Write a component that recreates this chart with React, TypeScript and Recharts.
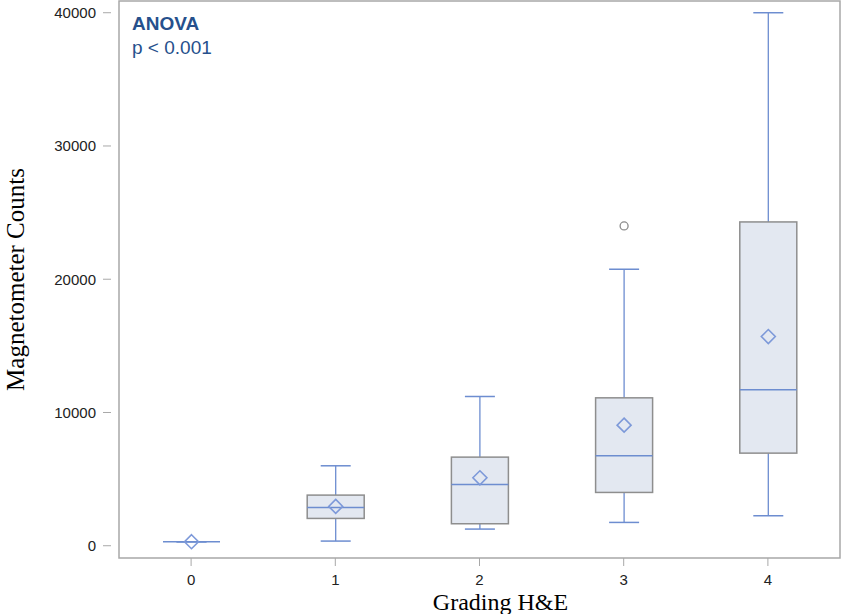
import { Bar, ComposedChart, ReferenceArea, XAxis, YAxis } from "recharts"

// five-number summaries
const grades = ["0", "1", "2", "3", "4"]
const whiskerLow = [300, 350, 1250, 1750, 2250]
const q1 = [300, 2050, 1650, 4000, 6950]
const median = [300, 2870, 4600, 6750, 11700]
const q3 = [300, 3800, 6650, 11100, 24300]
const whiskerHigh = [300, 6000, 11200, 20750, 40000]
const means = [300, 2950, 5100, 9050, 15700]
const outliers: number[][] = [[], [], [], [24000], []]

const yTicks = [0, 10000, 20000, 30000, 40000]
const yDomain: [number, number] = [-920, 40880]

const rows = grades.map((grade, i) => ({
  grade,
  lo: whiskerLow[i],
  q1: q1[i],
  med: median[i],
  q3: q3[i],
  hi: whiskerHigh[i],
  mean: means[i],
  out: outliers[i],
}))

const BLUE = "#6d8dd0"
const BOX_STROKE = "#8e8e8e"
const BOX_FILL = "#e3e8f1"
const FRAME = "#a8a8a8"

function BoxShape(props: any) {
  const { x, y, width, height, payload } = props
  if (payload == null || height == null) return null
  // bar runs from 0 to the upper whisker, so map other stats along it
  const py = (v: number) => y + height - (height * v) / payload.hi
  const cx = x + width / 2
  const cap = 15
  const d = 7
  const my = py(payload.mean)
  return (
    <g>
      <line x1={cx} x2={cx} y1={py(payload.lo)} y2={py(payload.q1)} stroke={BLUE} strokeWidth={1.3} />
      <line x1={cx} x2={cx} y1={py(payload.q3)} y2={py(payload.hi)} stroke={BLUE} strokeWidth={1.3} />
      <line x1={cx - cap} x2={cx + cap} y1={py(payload.lo)} y2={py(payload.lo)} stroke={BLUE} strokeWidth={1.5} />
      <line x1={cx - cap} x2={cx + cap} y1={py(payload.hi)} y2={py(payload.hi)} stroke={BLUE} strokeWidth={1.5} />
      <rect
        x={x}
        y={py(payload.q3)}
        width={width}
        height={Math.max(0, py(payload.q1) - py(payload.q3))}
        fill={BOX_FILL}
        stroke={BOX_STROKE}
        strokeWidth={1.5}
      />
      <line x1={x} x2={x + width} y1={py(payload.med)} y2={py(payload.med)} stroke={BLUE} strokeWidth={1.5} />
      <path
        d={`M${cx},${my - d} L${cx + d},${my} L${cx},${my + d} L${cx - d},${my} Z`}
        fill="none"
        stroke="#7d99d9"
        strokeWidth={1.6}
      />
      {payload.out.map((v: number, k: number) => (
        <circle key={k} cx={cx} cy={py(v)} r={4} fill="none" stroke="#8a8a8a" strokeWidth={1.3} />
      ))}
    </g>
  )
}

export default function App() {
  const tickStyle = { fontFamily: "'Liberation Sans', Arial, sans-serif", fontSize: 15, fill: "#222" }
  const serif = "'Liberation Serif', 'Times New Roman', serif"

  return (
    <div style={{ position: "absolute", left: 0, top: 0, width: 849, height: 614, background: "#fff" }}>
      <ComposedChart width={849} height={614} data={rows} margin={{ top: 1, right: 1, left: 0, bottom: 0 }}>
        <ReferenceArea y1={yDomain[0]} y2={yDomain[1]} fill="none" stroke={FRAME} strokeWidth={1.5} ifOverflow="visible" />
        <XAxis
          dataKey="grade"
          type="category"
          height={56}
          padding={{ left: 8, right: 8 }}
          axisLine={false}
          tickSize={8}
          tickMargin={8}
          tickLine={{ stroke: FRAME }}
          tick={tickStyle}
          label={{
            value: "Grading H&E",
            position: "insideBottom",
            offset: 4,
            dx: 21,
            style: { fontFamily: serif, fontSize: 24, fill: "#000" },
          }}
        />
        <YAxis
          type="number"
          domain={yDomain}
          ticks={yTicks}
          width={111}
          axisLine={false}
          tickSize={8}
          tickMargin={7}
          tickLine={{ stroke: FRAME }}
          tick={tickStyle}
          label={{
            value: "Magnetometer Counts",
            angle: -90,
            position: "insideLeft",
            offset: 15,
            style: { fontFamily: serif, fontSize: 25, fill: "#000", textAnchor: "middle" },
          }}
        />
        <Bar dataKey="hi" barSize={57} isAnimationActive={false} shape={BoxShape} />
      </ComposedChart>
      <svg width={849} height={614} style={{ position: "absolute", left: 0, top: 0, pointerEvents: "none" }}>
        <text x={132} y={30} fill="#26508c" fontFamily="'Liberation Sans', Arial, sans-serif" fontSize={19} fontWeight="bold">
          ANOVA
        </text>
        <text x={132} y={54} fill="#26508c" fontFamily="'Liberation Sans', Arial, sans-serif" fontSize={19}>
          p &lt; 0.001
        </text>
      </svg>
    </div>
  )
}
